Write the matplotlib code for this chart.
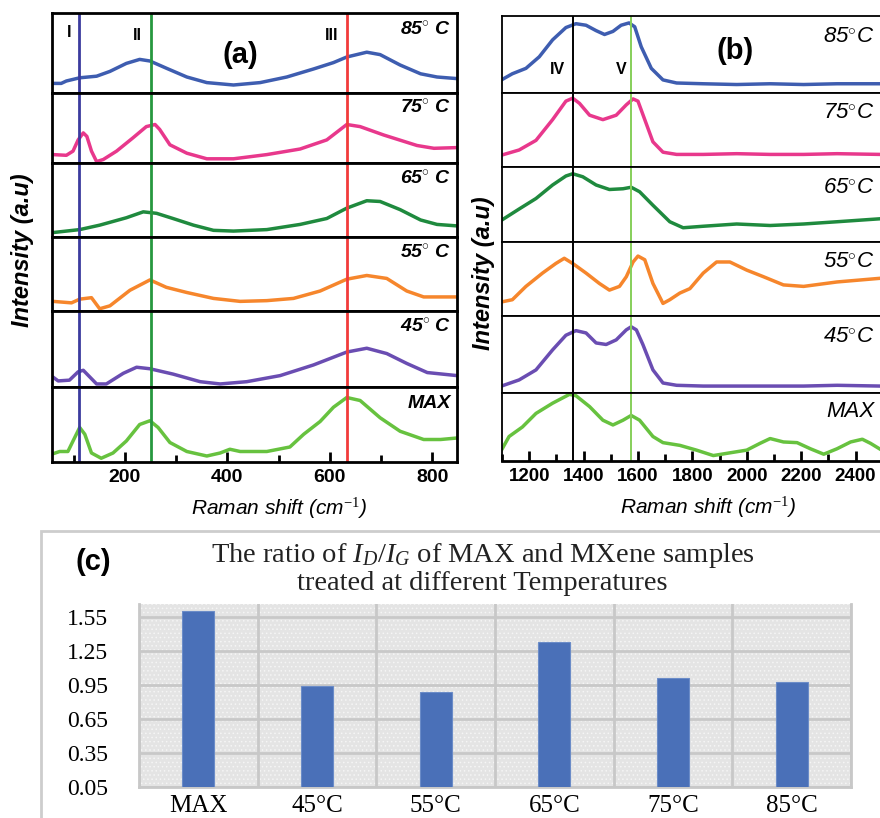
import numpy as np
import matplotlib.pyplot as plt
from matplotlib.patches import Rectangle

plt.rcParams['font.family'] = ['Liberation Sans', 'DejaVu Sans']
plt.rcParams['mathtext.fontset'] = 'custom'
plt.rcParams['mathtext.rm'] = 'Liberation Serif'
plt.rcParams['mathtext.it'] = 'Liberation Serif:italic'
plt.rcParams['hatch.linewidth'] = 0.6

# (a) low wavenumber Raman spectra, y = fraction of each strip height
a85_x = [60, 76, 86, 112, 145, 171, 203, 229, 249, 281, 321, 360, 412, 464, 516, 568, 607, 633, 672, 698, 737, 777, 809, 848]
a85_y = [.12, .12, .15, .19, .21, .27, .37, .42, .40, .31, .20, .13, .10, .13, .20, .30, .38, .45, .51, .48, .35, .24, .20, .18]
a75_x = [60, 86, 99, 109, 119, 126, 135, 145, 158, 184, 216, 242, 259, 268, 288, 321, 360, 412, 477, 542, 594, 633, 659, 705, 770, 803, 848]
a75_y = [.12, .11, .17, .33, .43, .38, .17, .02, .05, .17, .36, .52, .55, .48, .26, .14, .06, .06, .12, .20, .33, .55, .52, .40, .25, .21, .22]
a65_x = [60, 112, 151, 203, 236, 262, 294, 334, 373, 412, 477, 542, 594, 633, 672, 698, 737, 777, 809, 848]
a65_y = [.06, .10, .16, .26, .34, .32, .25, .16, .09, .08, .10, .17, .25, .39, .49, .48, .37, .23, .17, .15]
a55_x = [60, 96, 112, 135, 151, 171, 210, 249, 281, 321, 373, 425, 477, 529, 581, 633, 672, 711, 750, 783, 848]
a55_y = [.13, .11, .16, .18, .03, .07, .28, .42, .32, .25, .17, .13, .14, .17, .27, .43, .48, .44, .27, .19, .19]
a45_x = [60, 70, 92, 109, 119, 132, 145, 164, 197, 223, 249, 294, 347, 386, 438, 503, 568, 633, 672, 711, 750, 790, 848]
a45_y = [.13, .08, .09, .20, .22, .13, .04, .04, .18, .26, .24, .17, .07, .04, .07, .15, .29, .46, .51, .44, .31, .19, .15]
amax_x = [60, 73, 89, 99, 112, 122, 135, 154, 177, 203, 229, 249, 265, 288, 321, 360, 386, 405, 425, 477, 522, 549, 581, 607, 633, 659, 698, 737, 783, 816, 848]
amax_y = [.11, .14, .14, .28, .46, .37, .12, .05, .12, .28, .50, .55, .46, .26, .14, .08, .12, .17, .14, .14, .20, .37, .54, .73, .86, .82, .59, .41, .30, .30, .32]

# (b) D and G band region
b85_x = [1098, 1138, 1188, 1237, 1286, 1335, 1372, 1409, 1446, 1477, 1508, 1538, 1567, 1588, 1612, 1649, 1692, 1742, 1840, 1963, 2086, 2209, 2332, 2492]
b85_y = [.17, .25, .32, .47, .69, .85, .90, .88, .81, .76, .80, .88, .91, .86, .60, .32, .17, .13, .12, .11, .12, .11, .12, .12]
b75_x = [1098, 1163, 1225, 1286, 1335, 1360, 1385, 1422, 1471, 1520, 1557, 1582, 1600, 1625, 1655, 1692, 1742, 1840, 1963, 2086, 2209, 2332, 2492]
b75_y = [.16, .23, .36, .64, .89, .93, .86, .70, .64, .70, .84, .92, .89, .64, .34, .20, .17, .17, .18, .17, .17, .18, .17]
b65_x = [1098, 1163, 1225, 1286, 1335, 1360, 1397, 1446, 1495, 1545, 1575, 1606, 1655, 1717, 1766, 1840, 1963, 2086, 2209, 2332, 2492]
b65_y = [.29, .44, .58, .76, .88, .91, .87, .76, .70, .71, .73, .67, .49, .27, .19, .21, .24, .22, .24, .27, .31]
b55_x = [1098, 1138, 1188, 1249, 1298, 1329, 1360, 1409, 1458, 1495, 1532, 1557, 1582, 1600, 1625, 1655, 1692, 1717, 1754, 1791, 1840, 1889, 1938, 2000, 2062, 2135, 2209, 2332, 2492]
b55_y = [.19, .22, .40, .58, .71, .78, .71, .58, .44, .35, .40, .53, .73, .81, .76, .44, .17, .22, .31, .37, .58, .73, .73, .62, .53, .42, .40, .46, .51]
b45_x = [1098, 1163, 1225, 1286, 1335, 1372, 1409, 1446, 1483, 1520, 1557, 1575, 1594, 1618, 1655, 1692, 1742, 1840, 1963, 2086, 2209, 2332, 2492]
b45_y = [.09, .17, .30, .56, .75, .81, .78, .65, .63, .69, .82, .86, .82, .63, .30, .13, .10, .09, .09, .09, .09, .10, .09]
bmax_x = [1098, 1126, 1175, 1225, 1286, 1348, 1372, 1422, 1471, 1508, 1545, 1575, 1606, 1655, 1692, 1754, 1815, 1877, 1938, 2000, 2049, 2086, 2135, 2185, 2234, 2283, 2332, 2382, 2425, 2455, 2492]
bmax_y = [.16, .36, .50, .70, .85, .98, .96, .80, .60, .53, .60, .67, .60, .36, .27, .23, .16, .08, .12, .16, .26, .33, .28, .27, .18, .10, .18, .28, .32, .26, .17]

samples = ['85', '75', '65', '55', '45', 'MAX']
colors = ['#3e5db0', '#e8388c', '#1f8a3e', '#f6862c', '#6a4db2', '#67c23f']
curves_a = [(a85_x, a85_y), (a75_x, a75_y), (a65_x, a65_y), (a55_x, a55_y), (a45_x, a45_y), (amax_x, amax_y)]
curves_b = [(b85_x, b85_y), (b75_x, b75_y), (b65_x, b65_y), (b55_x, b55_y), (b45_x, b45_y), (bmax_x, bmax_y)]

peaks_a = [111, 252, 634]
peaks_a_colors = ['#3b3b9e', '#27983f', '#f23b3b']
peaks_a_names = ['I', 'II', 'III']
peaks_b = [1360, 1573]
peaks_b_colors = ['black', '#86cf5a']
peaks_b_names = ['IV', 'V']

# (c) ID/IG ratio
categories = ['MAX', '45°C', '55°C', '65°C', '75°C', '85°C']
ratio = [1.60, 0.94, 0.89, 1.33, 1.01, 0.98]
ratio_ticks = [0.05, 0.35, 0.65, 0.95, 1.25, 1.55]

W, H = 880.0, 818.0
fig = plt.figure(figsize=(8.8, 8.18), dpi=100)


def px_axes(left, top, right, bottom):
    return fig.add_axes([left / W, 1 - bottom / H, (right - left) / W, (bottom - top) / H])


def px_text(x, y, s, **kw):
    fig.text(x / W, 1 - y / H, s, **kw)


def temp_label(name):
    if name == 'MAX':
        return 'MAX'
    return name + r'$^{\circ}$' + ' C'


edges_a = [13, 93, 163, 237, 311, 387, 462]
edges_b = [16, 93, 167, 242, 316, 393, 461]
line_kw = dict(lw=2.5, solid_capstyle='round', solid_joinstyle='round')

for i in range(6):
    # panel (a)
    ax = px_axes(52, edges_a[i], 457, edges_a[i + 1])
    x, y = curves_a[i]
    ax.plot(x, y, color=colors[i], **line_kw)
    for p, c in zip(peaks_a, peaks_a_colors):
        ax.axvline(p, color=c, lw=2)
    ax.set_xlim(58, 848)
    ax.set_ylim(0, 1)
    ax.set_yticks([])
    for s in ax.spines.values():
        s.set_linewidth(2)
    ax.text(0.985, 0.78, temp_label(samples[i]), transform=ax.transAxes, ha='right', va='center',
            fontsize=14, fontweight='bold', style='italic')
    if i < 5:
        ax.tick_params(axis='x', bottom=False, labelbottom=False)
    else:
        ax.set_xticks([200, 400, 600, 800])
        ax.set_xticks([100, 300, 500, 700], minor=True)
        ax.tick_params(axis='x', which='major', direction='in', length=7, width=2, labelsize=14, pad=5)
        ax.tick_params(axis='x', which='minor', direction='in', length=5, width=2)
        for lab in ax.get_xticklabels():
            lab.set_fontweight('bold')
    if i == 0:
        ax.text((240 - 52) / 405, 0.48, '(a)', transform=ax.transAxes, ha='center', va='center',
                fontsize=21, fontweight='bold')
        for p, name, yy in zip([69, 137, 332], peaks_a_names, [0.76, 0.72, 0.72]):
            ax.text((p - 52) / 405, yy, name, transform=ax.transAxes, ha='center', va='center',
                    fontsize=11.5, fontweight='bold')

    # panel (b)
    ax = px_axes(502, edges_b[i], 880, edges_b[i + 1])
    x, y = curves_b[i]
    ax.plot(x, y, color=colors[i], **line_kw)
    for p, c in zip(peaks_b, peaks_b_colors):
        ax.axvline(p, color=c, lw=1.4)
    ax.set_xlim(1100, 2490)
    ax.set_ylim(0, 1)
    ax.set_yticks([])
    ax.spines['right'].set_visible(False)
    for s in ax.spines.values():
        s.set_linewidth(1.3)
    ax.text(0.985, 0.73, temp_label(samples[i]).replace(' C', 'C'), transform=ax.transAxes, ha='right',
            va='center', fontsize=16, style='italic')
    if i < 5:
        ax.tick_params(axis='x', bottom=False, labelbottom=False)
    else:
        ax.spines['bottom'].set_linewidth(2)
        ax.set_xticks(np.arange(1200, 2500, 200))
        ax.set_xticks(np.arange(1100, 2500, 200), minor=True)
        ax.tick_params(axis='x', which='major', direction='in', length=7, width=2, labelsize=13.5, pad=5)
        ax.tick_params(axis='x', which='minor', direction='in', length=5, width=2)
        for lab in ax.get_xticklabels():
            lab.set_fontweight('bold')
    if i == 0:
        ax.text((735 - 502) / 378, 0.55, '(b)', transform=ax.transAxes, ha='center', va='center',
                fontsize=21, fontweight='bold')
        for p, name in zip([557, 621], peaks_b_names):
            ax.text((p - 502) / 378, 0.3, name, transform=ax.transAxes, ha='center', va='center',
                    fontsize=11.5, fontweight='bold')

px_text(22, 250, 'Intensity (a.u)', rotation=90, ha='center', va='center', fontsize=17,
        fontweight='bold', style='italic')
px_text(483, 273, 'Intensity (a.u)', rotation=90, ha='center', va='center', fontsize=17,
        fontweight='bold', style='italic')
px_text(279, 508, 'Raman shift (cm$^{-1}$)', ha='center', va='center', fontsize=15, style='italic')
px_text(708, 507, 'Raman shift (cm$^{-1}$)', ha='center', va='center', fontsize=15, style='italic')

# panel (c)
frame = Rectangle((41 / W, -0.1), 1.0, 1 - 531 / H + 0.1, transform=fig.transFigure,
                  facecolor='none', edgecolor='#cdcdcd', lw=2, clip_on=False)
fig.add_artist(frame)

axc = px_axes(139, 604, 851, 787)
axc.set_facecolor('#e4e4e4')
axc.add_patch(Rectangle((0, 0), 1, 1, transform=axc.transAxes, facecolor='none', hatch='....',
                        edgecolor='#f5f5f5', lw=0, zorder=0))
xpos = np.arange(len(categories))
axc.bar(xpos, ratio, width=0.27, color='#4a70b8', edgecolor='#6b8cc8', lw=0.8, zorder=3)
axc.set_xlim(-0.5, len(categories) - 0.5)
axc.set_ylim(0.05, 1.665)
axc.set_yticks(ratio_ticks)
axc.set_yticklabels(['%.2f' % t for t in ratio_ticks])
axc.set_xticks(xpos)
axc.set_xticklabels(categories)
axc.set_xticks(np.arange(-0.5, len(categories), 1), minor=True)
axc.set_axisbelow(True)
axc.grid(which='major', axis='y', color='#c8c8c8', lw=2)
axc.grid(which='minor', axis='x', color='#c8c8c8', lw=2)
axc.tick_params(which='both', length=0)
axc.tick_params(axis='y', pad=22, labelsize=17)
axc.tick_params(axis='x', pad=6, labelsize=18)
for lab in axc.get_xticklabels() + axc.get_yticklabels():
    lab.set_family('Liberation Serif')
axc.spines['top'].set_visible(False)
for side in ['left', 'right', 'bottom']:
    axc.spines[side].set_color('#c8c8c8')
    axc.spines[side].set_linewidth(2)

px_text(93, 562, '(c)', ha='center', va='center', fontsize=21, fontweight='bold')
px_text(483, 556, 'The ratio of $I_{D}/I_{G}$ of MAX and MXene samples', ha='center', va='center',
        fontsize=20.5, family='Liberation Serif', color='#222222')
px_text(482, 584, 'treated at different Temperatures', ha='center', va='center',
        fontsize=20.5, family='Liberation Serif', color='#222222')

fig.savefig('out.png', dpi=100)
